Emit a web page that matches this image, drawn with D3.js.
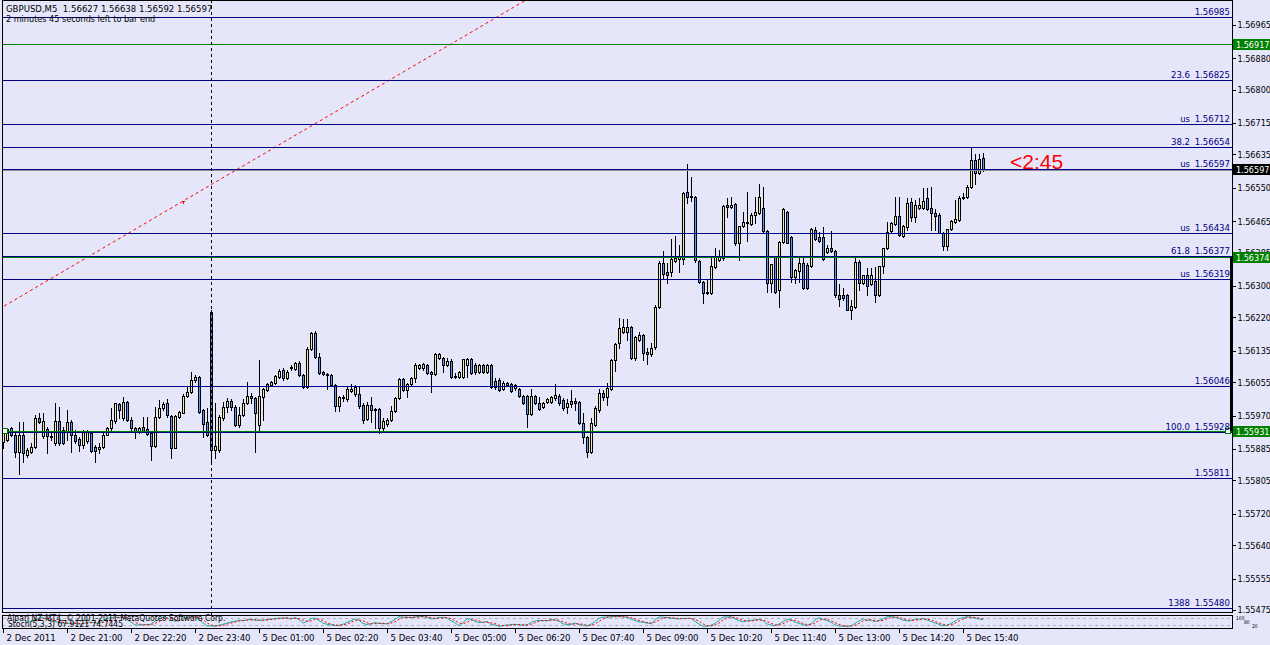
<!DOCTYPE html>
<html><head><meta charset="utf-8">
<script src="https://cdn.jsdelivr.net/npm/d3@7"></script>
<style>
html,body{margin:0;padding:0;background:#e6e6fa;overflow:hidden}
svg{display:block}
text{font-family:"DejaVu Sans Condensed","DejaVu Sans",sans-serif;white-space:pre}
</style></head><body>
<svg id="c" width="1270" height="645"></svg>
<script>
// ---------- DATA ----------
const opens=[1.55902,1.55907,1.55938,1.55920,1.55877,1.55920,1.55869,1.55877,1.55890,1.55963,1.55917,1.55935,1.55917,1.55900,1.55956,1.55933,1.55928,1.55953,1.55920,1.55910,1.55895,1.55905,1.55925,1.55890,1.55884,1.55890,1.55920,1.55938,1.55956,1.55999,1.55963,1.56004,1.55958,1.55938,1.55930,1.55940,1.55935,1.55925,1.55892,1.55966,1.55989,1.56002,1.55968,1.55887,1.55966,1.55976,1.56019,1.56030,1.56060,1.56068,1.55984,1.55953,1.56233,1.55882,1.55882,1.55963,1.55991,1.56007,1.55991,1.55946,1.55971,1.56002,1.56019,1.56014,1.55946,1.56017,1.56035,1.56047,1.56052,1.56068,1.56086,1.56065,1.56093,1.56088,1.56103,1.56073,1.56042,1.56139,1.56180,1.56119,1.56081,1.56075,1.56073,1.56047,1.55994,1.56014,1.56012,1.56032,1.56025,1.56025,1.55997,1.55961,1.55997,1.55986,1.55986,1.55938,1.55948,1.55958,1.55981,1.56014,1.56063,1.56035,1.56050,1.56065,1.56091,1.56091,1.56098,1.56081,1.56075,1.56116,1.56116,1.56098,1.56109,1.56070,1.56068,1.56068,1.56098,1.56114,1.56098,1.56081,1.56098,1.56081,1.56098,1.56058,1.56060,1.56037,1.56052,1.56050,1.56040,1.56037,1.56019,1.56019,1.55974,1.56019,1.56002,1.55991,1.56004,1.56004,1.56014,1.56019,1.56009,1.55991,1.56007,1.56007,1.56004,1.55951,1.55915,1.55877,1.55946,1.55984,1.56027,1.56017,1.56037,1.56111,1.56154,1.56182,1.56182,1.56195,1.56116,1.56162,1.56175,1.56131,1.56126,1.56144,1.56246,1.56358,1.56335,1.56335,1.56363,1.56368,1.56368,1.56539,1.56529,1.56527,1.56363,1.56310,1.56282,1.56282,1.56348,1.56366,1.56371,1.56506,1.56501,1.56508,1.56409,1.56452,1.56463,1.56458,1.56480,1.56485,1.56498,1.56440,1.56307,1.56373,1.56289,1.56412,1.56488,1.56425,1.56323,1.56338,1.56358,1.56353,1.56351,1.56442,1.56425,1.56425,1.56386,1.56396,1.56389,1.56277,1.56277,1.56277,1.56238,1.56246,1.56361,1.56307,1.56328,1.56305,1.56312,1.56277,1.56351,1.56396,1.56440,1.56458,1.56478,1.56427,1.56450,1.56514,1.56475,1.56498,1.56498,1.56524,1.56498,1.56486,1.56480,1.56435,1.56402,1.56445,1.56463,1.56468,1.56524,1.56526,1.56551,1.56620,1.56587,1.56627];
const highs=[1.55938,1.55938,1.55940,1.55925,1.55953,1.55953,1.55887,1.55900,1.55971,1.55976,1.55976,1.55940,1.55928,1.56002,1.55991,1.55940,1.55984,1.55958,1.55933,1.55915,1.55933,1.55933,1.55928,1.55895,1.55900,1.55925,1.55940,1.55989,1.56002,1.56002,1.56017,1.56007,1.55966,1.55940,1.55940,1.55966,1.55966,1.55928,1.55991,1.56009,1.56004,1.56012,1.55971,1.55971,1.55981,1.56025,1.56042,1.56081,1.56073,1.56070,1.55986,1.55989,1.56238,1.56002,1.55971,1.56004,1.56014,1.56012,1.55997,1.55991,1.56012,1.56055,1.56027,1.56017,1.56111,1.56040,1.56052,1.56058,1.56073,1.56088,1.56091,1.56086,1.56098,1.56106,1.56109,1.56075,1.56144,1.56182,1.56185,1.56129,1.56083,1.56078,1.56075,1.56050,1.56019,1.56022,1.56042,1.56050,1.56047,1.56045,1.56002,1.56004,1.56017,1.55989,1.55989,1.55963,1.55963,1.55994,1.56017,1.56065,1.56065,1.56052,1.56068,1.56103,1.56101,1.56103,1.56101,1.56083,1.56129,1.56129,1.56119,1.56116,1.56114,1.56078,1.56083,1.56114,1.56116,1.56116,1.56103,1.56101,1.56101,1.56101,1.56101,1.56065,1.56065,1.56058,1.56055,1.56052,1.56050,1.56040,1.56022,1.56022,1.56037,1.56022,1.56017,1.56004,1.56014,1.56019,1.56050,1.56025,1.56014,1.56012,1.56035,1.56014,1.56007,1.55976,1.55917,1.55963,1.55994,1.56037,1.56035,1.56052,1.56114,1.56154,1.56218,1.56216,1.56216,1.56198,1.56172,1.56182,1.56177,1.56142,1.56154,1.56251,1.56363,1.56389,1.56358,1.56419,1.56427,1.56404,1.56539,1.56610,1.56577,1.56529,1.56366,1.56312,1.56315,1.56376,1.56396,1.56391,1.56506,1.56524,1.56526,1.56511,1.56452,1.56488,1.56539,1.56485,1.56526,1.56561,1.56551,1.56442,1.56356,1.56376,1.56414,1.56498,1.56491,1.56427,1.56343,1.56373,1.56373,1.56358,1.56447,1.56450,1.56437,1.56450,1.56404,1.56440,1.56391,1.56305,1.56295,1.56279,1.56264,1.56373,1.56366,1.56328,1.56345,1.56345,1.56348,1.56351,1.56396,1.56463,1.56463,1.56526,1.56526,1.56455,1.56524,1.56524,1.56519,1.56524,1.56549,1.56549,1.56551,1.56496,1.56486,1.56437,1.56445,1.56468,1.56519,1.56529,1.56537,1.56557,1.56654,1.56636,1.56636,1.56638];
const lows=[1.55887,1.55905,1.55917,1.55864,1.55821,1.55851,1.55864,1.55874,1.55887,1.55951,1.55912,1.55874,1.55907,1.55895,1.55895,1.55897,1.55907,1.55877,1.55900,1.55879,1.55887,1.55900,1.55877,1.55851,1.55874,1.55887,1.55920,1.55933,1.55951,1.55963,1.55958,1.55956,1.55928,1.55912,1.55925,1.55928,1.55920,1.55856,1.55890,1.55963,1.55984,1.55966,1.55862,1.55887,1.55963,1.55976,1.56017,1.56027,1.56055,1.55976,1.55915,1.55917,1.55851,1.55862,1.55877,1.55958,1.55979,1.55984,1.55943,1.55940,1.55968,1.55999,1.56002,1.55877,1.55928,1.55958,1.56032,1.56045,1.56050,1.56065,1.56060,1.56063,1.56086,1.56086,1.56070,1.56040,1.56040,1.56137,1.56116,1.56075,1.56073,1.56037,1.56045,1.55981,1.55981,1.56007,1.56007,1.56030,1.56019,1.55989,1.55951,1.55958,1.55953,1.55938,1.55925,1.55928,1.55943,1.55956,1.55979,1.56012,1.56032,1.56017,1.56047,1.56055,1.56088,1.56086,1.56075,1.56030,1.56073,1.56114,1.56081,1.56096,1.56065,1.56065,1.56065,1.56065,1.56068,1.56075,1.56075,1.56078,1.56078,1.56078,1.56040,1.56037,1.56032,1.56035,1.56045,1.56030,1.56035,1.56017,1.55999,1.55940,1.55971,1.55999,1.55984,1.55989,1.56002,1.56002,1.56009,1.55997,1.55984,1.55976,1.55991,1.55984,1.55948,1.55900,1.55864,1.55874,1.55943,1.55979,1.56009,1.55997,1.56035,1.56083,1.56141,1.56180,1.56162,1.56114,1.56111,1.56159,1.56111,1.56101,1.56121,1.56139,1.56243,1.56317,1.56307,1.56325,1.56361,1.56335,1.56356,1.56511,1.56516,1.56361,1.56307,1.56256,1.56279,1.56279,1.56345,1.56363,1.56366,1.56475,1.56498,1.56404,1.56366,1.56450,1.56414,1.56455,1.56460,1.56483,1.56437,1.56284,1.56284,1.56282,1.56246,1.56409,1.56409,1.56310,1.56307,1.56310,1.56292,1.56292,1.56348,1.56417,1.56412,1.56366,1.56383,1.56386,1.56272,1.56249,1.56264,1.56238,1.56216,1.56243,1.56289,1.56305,1.56277,1.56302,1.56259,1.56274,1.56333,1.56394,1.56437,1.56455,1.56427,1.56425,1.56442,1.56465,1.56463,1.56496,1.56496,1.56493,1.56442,1.56442,1.56435,1.56391,1.56391,1.56442,1.56460,1.56465,1.56521,1.56524,1.56549,1.56561,1.56585,1.56592];
const closes=[1.55925,1.55936,1.55920,1.55877,1.55920,1.55874,1.55882,1.55890,1.55963,1.55953,1.55956,1.55917,1.55915,1.55956,1.55900,1.55900,1.55953,1.55920,1.55905,1.55895,1.55930,1.55930,1.55879,1.55879,1.55890,1.55920,1.55938,1.55958,1.56002,1.55984,1.56004,1.55958,1.55938,1.55930,1.55938,1.55930,1.55923,1.55892,1.55966,1.55989,1.55999,1.55971,1.55887,1.55968,1.55979,1.56019,1.56030,1.56060,1.56068,1.55979,1.55948,1.55920,1.55882,1.55892,1.55966,1.55991,1.56007,1.55991,1.55946,1.55971,1.56002,1.56019,1.56014,1.55976,1.56019,1.56037,1.56050,1.56055,1.56070,1.56083,1.56065,1.56081,1.56091,1.56103,1.56073,1.56042,1.56139,1.56180,1.56119,1.56078,1.56075,1.56073,1.56047,1.55994,1.56017,1.56017,1.56037,1.56037,1.56042,1.55994,1.55958,1.55997,1.55984,1.55984,1.55938,1.55956,1.55958,1.55981,1.56014,1.56063,1.56035,1.56050,1.56065,1.56098,1.56098,1.56101,1.56078,1.56075,1.56126,1.56126,1.56098,1.56109,1.56068,1.56068,1.56081,1.56114,1.56114,1.56078,1.56081,1.56098,1.56081,1.56098,1.56042,1.56042,1.56035,1.56052,1.56047,1.56032,1.56047,1.56019,1.56002,1.55974,1.56019,1.56002,1.55986,1.56002,1.56012,1.56017,1.56022,1.56002,1.55989,1.56002,1.55999,1.56002,1.55951,1.55915,1.55877,1.55951,1.55989,1.56027,1.56017,1.56040,1.56111,1.56152,1.56193,1.56195,1.56195,1.56116,1.56170,1.56175,1.56129,1.56126,1.56142,1.56246,1.56358,1.56330,1.56328,1.56368,1.56371,1.56373,1.56537,1.56527,1.56527,1.56366,1.56310,1.56282,1.56284,1.56351,1.56376,1.56373,1.56503,1.56501,1.56506,1.56409,1.56452,1.56463,1.56460,1.56480,1.56488,1.56526,1.56440,1.56307,1.56356,1.56284,1.56412,1.56496,1.56409,1.56323,1.56340,1.56358,1.56294,1.56294,1.56445,1.56419,1.56414,1.56368,1.56396,1.56389,1.56277,1.56266,1.56269,1.56238,1.56249,1.56361,1.56307,1.56328,1.56300,1.56328,1.56277,1.56351,1.56396,1.56437,1.56460,1.56478,1.56429,1.56452,1.56511,1.56475,1.56506,1.56506,1.56517,1.56496,1.56486,1.56478,1.56435,1.56402,1.56445,1.56465,1.56470,1.56524,1.56526,1.56551,1.56620,1.56587,1.56623,1.56597];

const timeTickBars=[0,16,32,48,64,80,96,112,128,144,160,176,192,208,224,240];
const timeLabels=["2 Dec 2011","2 Dec 21:00","2 Dec 22:20","2 Dec 23:40","5 Dec 01:00","5 Dec 02:20","5 Dec 03:40","5 Dec 05:00","5 Dec 06:20","5 Dec 07:40","5 Dec 09:00","5 Dec 10:20","5 Dec 11:40","5 Dec 13:00","5 Dec 14:20","5 Dec 15:40"];
const priceTicks=[1.56965,1.56880,1.56800,1.56715,1.56635,1.56550,1.56465,1.56385,1.56300,1.56220,1.56135,1.56055,1.55970,1.55885,1.55805,1.55720,1.55640,1.55555,1.55475];

const levelPrices=[1.56985,1.56825,1.56712,1.56654,1.56597,1.56434,1.56377,1.56319,1.56046,1.55928,1.55811,1.55480];
const levelTexts=["","23.6","us","38.2","us","us","61.8","us","","100.0","","1388"];
const greenLines=[1.56917,1.56374,1.55931];
const bidPrice=1.56597;
const separatorBar=52;
const trendBars=[45,83];
const trendPrices=[1.56516,1.56743];
const stochLevels=[80,20];
const stochScaleLabels=["100","80","20"];
const titleText="GBPUSD,M5  1.56627 1.56638 1.56592 1.56597";
const timerText="2 minutes 45 seconds left to bar end";
const countdownText="<2:45";
const copyrightText="Alpari NZ MT4, \u00a9 2001-2011 MetaQuotes Software Corp.";
const stochText="Stoch(5,3,3) 67.9121 74.7445";

// ---------- LAYOUT ----------
const L=2, R=1232, T=0, MB=612, ST=615, SB=628;
const n=closes.length;
const x=d3.scaleLinear().domain([0,n-1]).range([3,3+4*(n-1)]);
const y=d3.scaleLinear().domain([1.55480,1.56985]).range([608,17]);
const ys=d3.scaleLinear().domain([0,100]).range([627,616]);
const NAVY="#000080", GREEN="#008000";
const svg=d3.select("#c").attr("shape-rendering","crispEdges");
svg.append("rect").attr("width",1270).attr("height",645).attr("fill","#e6e6fa");

const defs=svg.append("defs");
defs.append("clipPath").attr("id","mainclip").append("rect").attr("x",L).attr("y",T).attr("width",R-L).attr("height",MB-T);
const main=svg.append("g").attr("clip-path","url(#mainclip)");
const py=p=>Math.round(y(p))+0.5;

// candles (pixel-exact: black outline rect + 1px coloured core)
const bars=d3.range(n).map(i=>{
  const top=Math.round(y(Math.max(opens[i],closes[i]))), bot=Math.round(y(Math.min(opens[i],closes[i])));
  return {i,cx:Math.round(x(i)),hi:Math.round(y(highs[i])),lo:Math.round(y(lows[i])),top,bot,up:closes[i]>=opens[i]};
});
const cg=main.append("g");
cg.selectAll("rect.w").data(bars).join("rect").attr("class","w")
  .attr("x",d=>d.cx).attr("y",d=>Math.min(d.hi,d.top)).attr("width",1)
  .attr("height",d=>Math.max(d.lo,d.bot)-Math.min(d.hi,d.top)+1).attr("fill","#000");
cg.selectAll("rect.b").data(bars).join("rect").attr("class","b")
  .attr("x",d=>d.cx-1).attr("y",d=>d.top).attr("width",3).attr("height",d=>d.bot-d.top+1).attr("fill","#000");
cg.selectAll("rect.f").data(bars.filter(d=>d.bot-d.top>=2)).join("rect").attr("class","f")
  .attr("x",d=>d.cx).attr("y",d=>d.top+1).attr("width",1).attr("height",d=>d.bot-d.top-1)
  .attr("fill",d=>d.up?"#eee8aa":"#6495ed");

// trend line (red dotted)
const tSlope=(trendPrices[1]-trendPrices[0])/(trendBars[1]-trendBars[0]);
const tAt=b=>trendPrices[0]+(b-trendBars[0])*tSlope;
main.append("line").attr("x1",x(-1)).attr("y1",y(tAt(-1))).attr("x2",x(140)).attr("y2",y(tAt(140)))
  .attr("stroke","#ff0000").attr("stroke-width",1).attr("stroke-dasharray","3,3").attr("shape-rendering","auto");
const ax=Math.round(x(trendBars[0])), ay=Math.round(y(trendPrices[0]));
main.append("path").attr("d",`M${ax-1},${ay+0.5}h3M${ax+0.5},${ay}v3`).attr("stroke","#ff0000");

// level lines
const lg=main.append("g");
lg.selectAll("line").data(levelPrices).join("line")
  .attr("x1",L).attr("x2",R).attr("y1",d=>py(d)).attr("y2",d=>py(d)).attr("stroke",NAVY);
main.append("line").attr("x1",L).attr("x2",R).attr("y1",py(bidPrice)+1).attr("y2",py(bidPrice)+1).attr("stroke","#8c8c9c");
main.selectAll("line.g").data(greenLines).join("line").attr("class","g")
  .attr("x1",L).attr("x2",R).attr("y1",d=>py(d)).attr("y2",d=>py(d)).attr("stroke",GREEN);
[L+3,R-4].forEach(cx=>{
  svg.append("rect").attr("x",cx-2.5).attr("y",Math.round(y(greenLines[2]))-2.5).attr("width",5).attr("height",5)
   .attr("fill","#fff").attr("stroke",GREEN);
});

// level labels
const lt=svg.append("g").attr("font-size","9.5px").attr("fill",NAVY);
lt.selectAll("text.p").data(levelPrices).join("text").attr("class","p")
  .attr("x",R-2).attr("y",d=>Math.round(y(d))-2).attr("text-anchor","end").text(d=>d3.format(".5f")(d));
lt.selectAll("text.t").data(levelPrices).join("text").attr("class","t")
  .attr("x",R-42).attr("y",d=>Math.round(y(d))-2).attr("text-anchor","end").text((d,i)=>levelTexts[i]);

// vertical separator (dashed)
svg.append("line").attr("x1",Math.round(x(separatorBar))+0.5).attr("x2",Math.round(x(separatorBar))+0.5)
  .attr("y1",T).attr("y2",ST).attr("stroke","#000").attr("stroke-dasharray","3,3");

// countdown
svg.append("text").attr("x",1010).attr("y",169).attr("fill","#ff0000")
  .attr("font-size","21px").style("font-family","'Liberation Sans',Arial,sans-serif").text(countdownText);

// title texts
svg.append("text").attr("x",6).attr("y",12).attr("font-size","9.5px").attr("fill","#000").text(titleText);
svg.append("text").attr("x",6).attr("y",22).attr("font-size","9px").attr("fill","#000").text(timerText);

// borders
svg.append("rect").attr("x",L+0.5).attr("y",T+0.5).attr("width",R-L).attr("height",MB-T).attr("fill","none").attr("stroke","#000");
svg.append("rect").attr("x",R-2).attr("y",Math.round(y(greenLines[1]))).attr("width",3)
  .attr("height",Math.round(y(greenLines[2]))-Math.round(y(greenLines[1]))).attr("fill","#000");

// price axis
const pa=svg.append("g").attr("transform",`translate(${R+0.5},0)`)
  .call(d3.axisRight(y).tickValues(priceTicks).tickFormat(d3.format(".5f")).tickSize(3).tickSizeOuter(0).tickPadding(2));
pa.select(".domain").remove();
pa.selectAll("text").attr("font-size","9px").attr("font-family",null).attr("fill","#000");
pa.selectAll("line").attr("stroke","#000");

// price tags
function tag(p,color){
  const yy=Math.round(y(p));
  svg.append("rect").attr("x",R+1).attr("y",yy-5).attr("width",40).attr("height",11).attr("fill",color);
  svg.append("text").attr("x",R+4).attr("y",yy+4).attr("font-size","9px").attr("fill","#fff").text(d3.format(".5f")(p));
}
greenLines.forEach(p=>tag(p,GREEN));
tag(bidPrice,"#000");

// sub window with stochastic (computed from the candles)
svg.append("rect").attr("x",L+0.5).attr("y",ST+0.5).attr("width",R-L).attr("height",SB-ST).attr("fill","none").attr("stroke","#000");
svg.selectAll("line.lvl").data(stochLevels).join("line").attr("class","lvl")
  .attr("x1",L+1).attr("x2",R).attr("y1",d=>Math.round(ys(d))+0.5).attr("y2",d=>Math.round(ys(d))+0.5)
  .attr("stroke","#b4b4c8").attr("stroke-dasharray","3,3");
const kMain=[],kSig=[],num=[],den=[];
for(let i=0;i<n;i++){
  if(i<4){num.push(null);den.push(null);continue;}
  const hh=d3.max(highs.slice(i-4,i+1)), ll=d3.min(lows.slice(i-4,i+1));
  num.push(closes[i]-ll); den.push(hh-ll);
}
for(let i=0;i<n;i++){
  if(i<6){kMain.push(null);continue;}
  const s1=num[i]+num[i-1]+num[i-2], s2=den[i]+den[i-1]+den[i-2];
  kMain.push(s2===0?100:100*s1/s2);
}
for(let i=0;i<n;i++){
  if(i<8){kSig.push(null);continue;}
  kSig.push((kMain[i]+kMain[i-1]+kMain[i-2])/3);
}
const sl=d3.line().defined(d=>d.v!==null).x(d=>x(d.i)).y(d=>ys(d.v));
svg.append("path").attr("d",sl(kMain.map((v,i)=>({i,v})))).attr("fill","none").attr("stroke","#20b2aa").attr("shape-rendering","auto");
svg.append("path").attr("d",sl(kSig.map((v,i)=>({i,v})))).attr("fill","none").attr("stroke","#ff0000").attr("stroke-dasharray","2,2").attr("shape-rendering","auto");
svg.append("text").attr("x",7).attr("y",621).attr("font-size","8.5px").attr("fill","#000").text(copyrightText);
svg.append("text").attr("x",8).attr("y",627).attr("font-size","8.5px").attr("fill","#000").text(stochText);
svg.append("g").attr("font-size","5px").attr("fill","#000").selectAll("text").data(stochScaleLabels).join("text")
  .attr("x",(d,i)=>R+4+i*8).attr("y",(d,i)=>620+i*4).text(d=>d);

// time axis
const ta=svg.append("g").attr("transform",`translate(0,${SB+0.5})`)
  .call(d3.axisBottom(x).tickValues(timeTickBars).tickFormat((d,i)=>timeLabels[i]).tickSize(4).tickSizeOuter(0).tickPadding(2));
ta.select(".domain").remove();
ta.selectAll("line").attr("stroke","#000");
ta.selectAll("text").attr("text-anchor","start").attr("dx","3px").attr("font-size","9.5px").attr("font-family",null).attr("fill","#000");
</script>
</body></html>
